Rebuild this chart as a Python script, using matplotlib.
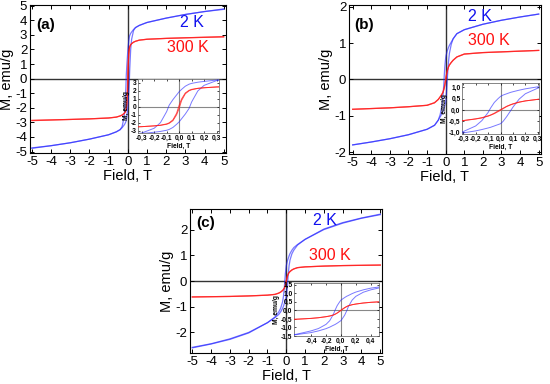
import matplotlib
matplotlib.use("Agg")
import matplotlib.pyplot as plt

plt.rcParams["font.family"] = ["Liberation Sans", "DejaVu Sans"]
plt.rcParams["axes.unicode_minus"] = False

# field grid shared by all loops, T
FIELD = [-5, -4, -3, -2, -1, -0.6, -0.4, -0.3, -0.2, -0.15, -0.1, -0.08, -0.05, -0.02, 0,
         0.02, 0.05, 0.08, 0.1, 0.15, 0.2, 0.3, 0.4, 0.6, 1, 2, 3, 4, 5]

# (a) magnetization, emu/g : descending (down) and ascending (up) branches
A_2K_DOWN = [-4.78, -4.6, -4.4, -4.15, -3.85, -3.65, -3.5, -3.3, -2.7, -2.0, -0.6, 0.2, 0.9, 1.5, 1.9,
             2.2, 2.6, 2.85, 2.95, 3.1, 3.2, 3.37, 3.5, 3.65, 3.85, 4.15, 4.4, 4.6, 4.75]
A_2K_UP = [-4.75, -4.6, -4.4, -4.15, -3.85, -3.65, -3.5, -3.37, -3.2, -3.1, -2.95, -2.85, -2.6, -2.2, -1.9,
           -1.5, -0.9, -0.2, 0.6, 2.0, 2.7, 3.3, 3.5, 3.65, 3.85, 4.15, 4.4, 4.6, 4.78]
A_300K_DOWN = [-2.86, -2.83, -2.8, -2.76, -2.7, -2.64, -2.56, -2.5, -2.4, -2.32, -2.15, -2.02, -1.65, -0.8, 0.2,
               1.0, 1.75, 2.08, 2.2, 2.33, 2.4, 2.5, 2.56, 2.64, 2.7, 2.76, 2.8, 2.84, 2.88]
A_300K_UP = [-2.88, -2.84, -2.8, -2.76, -2.7, -2.64, -2.56, -2.5, -2.4, -2.33, -2.2, -2.08, -1.75, -1.0, -0.2,
             0.8, 1.65, 2.02, 2.15, 2.32, 2.4, 2.5, 2.56, 2.64, 2.7, 2.76, 2.8, 2.83, 2.86]

# (b)
B_2K_DOWN = [-1.8, -1.72, -1.63, -1.52, -1.37, -1.26, -1.12, -0.97, -0.72, -0.48, -0.12, 0.08, 0.33, 0.5, 0.6,
             0.66, 0.72, 0.78, 0.81, 0.88, 0.94, 1.03, 1.12, 1.26, 1.37, 1.52, 1.63, 1.72, 1.8]
B_2K_UP = [-1.8, -1.72, -1.63, -1.52, -1.37, -1.26, -1.12, -1.03, -0.94, -0.88, -0.81, -0.78, -0.72, -0.66, -0.62,
           -0.52, -0.3, -0.05, 0.12, 0.48, 0.72, 0.97, 1.12, 1.26, 1.37, 1.52, 1.63, 1.72, 1.8]
B_300K_DOWN = [-0.82, -0.8, -0.78, -0.75, -0.71, -0.64, -0.55, -0.48, -0.4, -0.35, -0.27, -0.23, -0.15, -0.05, 0.01,
               0.07, 0.16, 0.23, 0.27, 0.35, 0.4, 0.47, 0.53, 0.62, 0.7, 0.74, 0.76, 0.78, 0.8]
B_300K_UP = [-0.82, -0.8, -0.78, -0.75, -0.71, -0.64, -0.55, -0.48, -0.41, -0.36, -0.28, -0.24, -0.17, -0.08, -0.02,
             0.05, 0.15, 0.22, 0.26, 0.34, 0.4, 0.47, 0.53, 0.62, 0.7, 0.74, 0.76, 0.78, 0.8]

# (c)
C_2K_DOWN = [-2.58, -2.44, -2.25, -2.0, -1.62, -1.4, -1.2, -1.06, -0.82, -0.6, -0.22, 0.0, 0.28, 0.48, 0.6,
             0.66, 0.75, 0.83, 0.87, 0.98, 1.07, 1.2, 1.3, 1.42, 1.62, 2.02, 2.27, 2.45, 2.6]
C_2K_UP = [-2.6, -2.45, -2.27, -2.02, -1.62, -1.42, -1.3, -1.2, -1.07, -0.98, -0.87, -0.83, -0.75, -0.66, -0.6,
           -0.48, -0.28, 0.0, 0.22, 0.6, 0.82, 1.06, 1.2, 1.4, 1.62, 2.0, 2.25, 2.44, 2.58]
C_300K_DOWN = [-0.62, -0.61, -0.6, -0.58, -0.55, -0.52, -0.47, -0.43, -0.37, -0.33, -0.27, -0.23, -0.15, -0.06, 0.01,
               0.07, 0.16, 0.23, 0.27, 0.33, 0.37, 0.43, 0.47, 0.52, 0.55, 0.58, 0.6, 0.61, 0.62]
C_300K_UP = [-0.62, -0.61, -0.6, -0.58, -0.55, -0.52, -0.47, -0.43, -0.37, -0.33, -0.27, -0.23, -0.16, -0.07, -0.01,
             0.06, 0.15, 0.23, 0.27, 0.33, 0.37, 0.43, 0.47, 0.52, 0.55, 0.58, 0.6, 0.61, 0.62]

# ticks
MAIN_XTICKS = [-5, -4, -3, -2, -1, 0, 1, 2, 3, 4, 5]
A_YTICKS = [-5, -4, -3, -2, -1, 0, 1, 2, 3, 4, 5]
BC_YTICKS = [-2, -1, 0, 1, 2]
INS_AB_XTICKS = [-0.3, -0.2, -0.1, 0.0, 0.1, 0.2, 0.3]
INS_AB_XLABELS = ["-0,3", "-0,2", "-0,1", "0,0", "0,1", "0,2", "0,3"]
INS_A_YTICKS = [-3, -2, -1, 0, 1, 2, 3]
INS_B_YTICKS = [-1.0, -0.5, 0.0, 0.5, 1.0]
INS_B_YLABELS = ["-1,0", "-0,5", "0,0", "0,5", "1,0"]
INS_C_XTICKS = [-0.4, -0.2, 0.0, 0.2, 0.4]
INS_C_XLABELS = ["-0,4", "-0,2", "0,0", "0,2", "0,4"]
INS_C_YTICKS = [-1.5, -1.0, -0.5, 0.0, 0.5, 1.0, 1.5]
INS_C_YLABELS = ["-1,5", "-1,0", "-0,5", "0,0", "0,5", "1,0", "1,5"]

BLUE = "#2020ff"
RED = "#ff1a1a"


def draw_loops(ax, blue_down, blue_up, red_down, red_up, lw):
    for m in (blue_down, blue_up):
        ax.plot(FIELD, m, color=BLUE, lw=lw, alpha=0.6, zorder=3)
    for m in (red_down, red_up):
        ax.plot(FIELD, m, color=RED, lw=lw, alpha=0.75, zorder=4)


def main_panel(rect, xlim, ylim, yticks, loops, tag, pos_2k, pos_300k):
    ax = fig.add_axes(rect)
    ax.axhline(0, color="#333333", lw=1.0, zorder=1)
    ax.axvline(0, color="#333333", lw=1.0, zorder=1)
    draw_loops(ax, *loops, lw=0.9)
    ax.set_xlim(*xlim)
    ax.set_ylim(*ylim)
    ax.set_xticks(MAIN_XTICKS)
    ax.set_yticks(yticks)
    ax.tick_params(direction="in", top=True, right=True, labelsize=9.5, length=3, width=0.7, pad=2)
    for s in ax.spines.values():
        s.set_linewidth(0.8)
    ax.set_xlabel("Field, T", fontsize=10.5, labelpad=1)
    ax.set_ylabel("M, emu/g", fontsize=10.5, labelpad=1)
    ax.text(0.03, tag[1], tag[0], transform=ax.transAxes, fontsize=11, weight="bold", va="center")
    ax.text(pos_2k[0], pos_2k[1], "2 K", transform=ax.transAxes, fontsize=11.5, color="#1010ee", va="center")
    ax.text(pos_300k[0], pos_300k[1], "300 K", transform=ax.transAxes, fontsize=11.5, color="#ff1010",
            va="center")
    return ax


def inset_panel(rect, xlim, ylim, xticks, xlabels, yticks, ylabels, loops):
    ax = fig.add_axes(rect)
    ax.axhline(0, color="#888888", lw=0.8, zorder=1)
    ax.axvline(0, color="#888888", lw=0.8, zorder=1)
    draw_loops(ax, *loops, lw=0.7)
    ax.set_xlim(*xlim)
    ax.set_ylim(*ylim)
    ax.set_xticks(xticks)
    ax.set_xticklabels(xlabels)
    ax.set_yticks(yticks)
    ax.set_yticklabels(ylabels)
    ax.tick_params(direction="in", top=True, right=True, labelsize=4.8, length=1.5, width=0.5, pad=1)
    for lab in ax.get_xticklabels() + ax.get_yticklabels():
        lab.set_fontweight("bold")
    for s in ax.spines.values():
        s.set_linewidth(0.5)
        s.set_color("#555555")
    ax.set_xlabel("Field, T", fontsize=4.8, weight="bold", labelpad=1)
    ax.set_ylabel("M, emu/g", fontsize=4.8, weight="bold", labelpad=0.5)
    return ax


fig = plt.figure(figsize=(5.5, 3.84), dpi=100)

# ===== (a) =====
main_panel([0.0545, 0.6016, 0.3564, 0.3854], (-5.1, 5.12), (-5.1, 5.05), A_YTICKS,
           (A_2K_DOWN, A_2K_UP, A_300K_DOWN, A_300K_UP), ("(a)", 0.865), (0.765, 0.885), (0.70, 0.71))
inset_panel([0.2509, 0.6536, 0.1473, 0.1406], (-0.33, 0.32), (-3.3, 3.5),
            INS_AB_XTICKS, INS_AB_XLABELS, INS_A_YTICKS, [str(t) for t in INS_A_YTICKS],
            (A_2K_DOWN, A_2K_UP, A_300K_DOWN, A_300K_UP))

# ===== (b) =====
main_panel([0.6345, 0.599, 0.349, 0.388], (-5.2, 5.12), (-2.05, 2.05), BC_YTICKS,
           (B_2K_DOWN, B_2K_UP, B_300K_DOWN, B_300K_UP), ("(b)", 0.866), (0.62, 0.92), (0.62, 0.76))
inset_panel([0.84, 0.651, 0.14, 0.1328], (-0.31, 0.31), (-1.08, 1.2),
            INS_AB_XTICKS, INS_AB_XLABELS, INS_B_YTICKS, INS_B_YLABELS,
            (B_2K_DOWN, B_2K_UP, B_300K_DOWN, B_300K_UP))

# ===== (c) =====
main_panel([0.3455, 0.0807, 0.349, 0.375], (-5.12, 5.09), (-2.8, 2.8), BC_YTICKS,
           (C_2K_DOWN, C_2K_UP, C_300K_DOWN, C_300K_UP), ("(c)", 0.9), (0.64, 0.92), (0.62, 0.68))
inset_panel([0.5345, 0.125, 0.1545, 0.138], (-0.63, 0.51), (-1.5, 1.6),
            INS_C_XTICKS, INS_C_XLABELS, INS_C_YTICKS, INS_C_YLABELS,
            (C_2K_DOWN, C_2K_UP, C_300K_DOWN, C_300K_UP))

fig.savefig("out.png", dpi=100, facecolor="white")
